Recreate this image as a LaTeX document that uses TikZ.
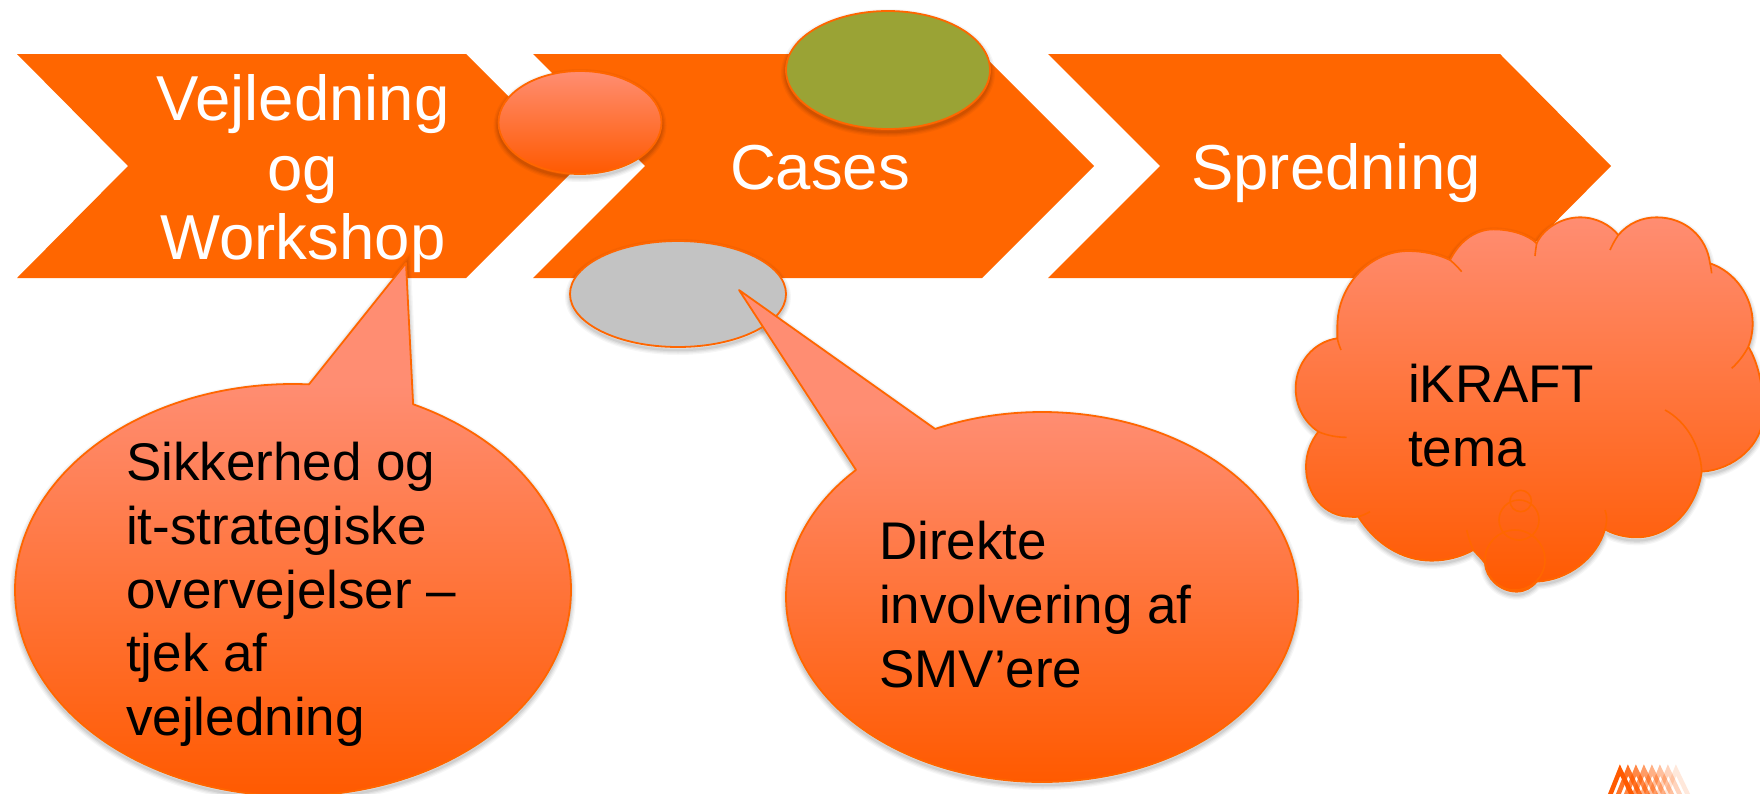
\documentclass[tikz,border=0pt]{standalone}
\usepackage{fontspec}
\setmainfont{Liberation Sans}
\definecolor{chev}{HTML}{FF6600}
\definecolor{gradtop}{HTML}{FF8D72}
\definecolor{gradbot}{HTML}{FF5A00}
\definecolor{edge}{HTML}{FF6600}
\definecolor{olive}{HTML}{9AA335}
\definecolor{lightgrey}{HTML}{C3C3C3}
\tikzset{
  chevron/.style={fill=chev,draw=none},
  outline/.style={draw=edge,line width=1.8pt,line join=round},
  cloudline/.style={draw=edge,line width=1.6pt},
  whitetxt/.style={text=white,font=\fontsize{63.5}{70}\selectfont,anchor=base,inner sep=0pt},
  blacktxt/.style={text=black,font=\fontsize{53}{64}\selectfont,anchor=base west,inner sep=0pt},
  logostroke/.style={line width=4.6pt,color=gradbot,line cap=butt},
}
\newcommand\softshadow[1]{%
  \foreach \w/\o in {10/.035,7.5/.045,5/.055,2.5/.065}{%
    \draw[black,opacity=\o,line width=\w pt,yshift=-3pt] #1;}}
\newcommand\ovalshape[6]{% cx cy rx ry fillstyle name
  \softshadow{(#1,#2) ellipse[x radius=#3,y radius=#4]}
  \path[#5,outline] (#1,#2) ellipse[x radius=#3,y radius=#4];}
\def\calloutA{plot[domain=64.4:-273.3,samples=160,smooth] ({293+278*cos(\x)},{590-206*sin(\x)}) -- (406,263) -- cycle}
\def\calloutB{plot[domain=136.6:474.7,samples=160,smooth] ({1042+256*cos(\x)},{597-185*sin(\x)}) -- (739,290) -- cycle}
\def\cloudpath{(570,180)
 .. controls (600,120) and (650,88) .. (700,88)
 .. controls (755,88) and (805,105) .. (830,130)
 .. controls (850,85) and (905,52) .. (960,52)
 .. controls (1010,52) and (1050,75) .. (1075,105)
 .. controls (1105,70) and (1145,52) .. (1190,52)
 .. controls (1275,52) and (1340,110) .. (1350,190)
 .. controls (1425,215) and (1478,290) .. (1478,370)
 .. controls (1478,395) and (1473,420) .. (1465,440)
 .. controls (1495,490) and (1510,560) .. (1510,640)
 .. controls (1510,735) and (1420,810) .. (1325,815)
 .. controls (1310,925) and (1230,1012) .. (1130,1012)
 .. controls (1095,1012) and (1060,1003) .. (1035,988)
 .. controls (1010,1075) and (925,1140) .. (830,1145)
 .. controls (815,1163) and (795,1175) .. (770,1175)
 .. controls (720,1175) and (678,1135) .. (675,1090)
 .. controls (665,1075) and (650,1062) .. (640,1050)
 .. controls (605,1070) and (560,1082) .. (515,1082)
 .. controls (425,1082) and (345,1030) .. (295,950)
 .. controls (285,952) and (278,951) .. (270,950)
 .. controls (195,950) and (138,885) .. (138,800)
 .. controls (138,760) and (152,725) .. (175,695)
 .. controls (130,665) and (107,615) .. (107,565)
 .. controls (107,490) and (160,425) .. (232,415)
 .. controls (232,405) and (232,390) .. (232,380)
 .. controls (232,255) and (330,153) .. (445,153)
 .. controls (490,153) and (535,163) .. (570,180) -- cycle}
\begin{document}
\begin{tikzpicture}[x=1pt,y=-1pt]
\useasboundingbox (0,0) rectangle (1760,793);
% chevrons
\path[chevron] (17,54) -- (466,54) -- (578,166) -- (466,278) -- (17,278) -- (128,166) -- cycle;
\path[chevron] (533,54) -- (982,54) -- (1094,166) -- (982,278) -- (533,278) -- (645,166) -- cycle;
\path[chevron] (1048,54) -- (1500,54) -- (1611,166) -- (1500,278) -- (1048,278) -- (1160,166) -- cycle;
% chevron texts
\node[whitetxt] (t1a) at (303,120) {Vejledning};
\node[whitetxt] (t1b) at (303,190) {og};
\node[whitetxt] (t1c) at (303,259) {Workshop};
\node[whitetxt] (t2) at (820,189) {Cases};
\node[whitetxt] (t3) at (1336,189) {Spredning};
% shadow of callout 2 lies under the grey oval
\softshadow{\calloutB}
% small ovals
\ovalshape{580}{122.5}{81.5}{51.5}{top color=gradtop,bottom color=gradbot}{o1}
\ovalshape{888}{70}{102}{59}{fill=olive}{o2}
\ovalshape{678}{294}{108}{53}{fill=lightgrey}{o3}
% callout 1
\softshadow{\calloutA}
\begin{scope}
  \clip \calloutA;
  \fill[gradtop] (0,250) rectangle (650,384);
  \shade[top color=gradtop,bottom color=gradbot] (0,384) rectangle (650,796);
\end{scope}
\path[outline] \calloutA;
% callout 2
\begin{scope}
  \clip \calloutB;
  \fill[gradtop] (700,280) rectangle (1350,412);
  \shade[top color=gradtop,bottom color=gradbot] (700,412) rectangle (1350,782);
\end{scope}
\path[outline] \calloutB;
% cloud
\begin{scope}[shift={(1260,200)},x=0.33333pt,y=-0.33333pt]
  \softshadow{\cloudpath}
  \shade[top color=gradtop,bottom color=gradbot] \cloudpath;
  \path[outline] \cloudpath;
  \path[cloudline] (570,180) .. controls (582,190) and (595,203) .. (605,215);
  \path[cloudline] (825,168) .. controls (826,155) and (828,142) .. (830,130);
  \path[cloudline] (1050,150) .. controls (1057,134) and (1066,118) .. (1075,105);
  \path[cloudline] (1355,220) .. controls (1354,210) and (1352,200) .. (1350,190);
  \path[cloudline] (1415,505) .. controls (1435,487) and (1452,465) .. (1465,440);
  \path[cloudline] (1215,630) .. controls (1280,665) and (1322,740) .. (1325,815);
  \path[cloudline] (1035,930) .. controls (1043,950) and (1040,970) .. (1035,988);
  \path[cloudline] (620,990) .. controls (625,1012) and (632,1032) .. (640,1050);
  \path[cloudline] (330,935) .. controls (318,942) and (306,947) .. (295,950);
  \path[cloudline] (260,712) .. controls (230,712) and (200,706) .. (175,695);
  \path[cloudline] (243,450) .. controls (238,438) and (234,426) .. (232,415);
  \path[cloudline] (782,903) circle (10.7pt);
  \path[cloudline] (777,960) circle (20pt);
  \path[cloudline] (765,1080) circle (30pt);
\end{scope}
% black texts
\node[blacktxt] (a1) at (126,480) {Sikkerhed og};
\node[blacktxt] (a2) at (126,544) {it-strategiske};
\node[blacktxt] (a3) at (126,608) {overvejelser –};
\node[blacktxt] (a4) at (126,671) {tjek af};
\node[blacktxt] (a5) at (126,735) {vejledning};
\node[blacktxt] (b1) at (879,559) {Direkte};
\node[blacktxt] (b2) at (879,623) {involvering af};
\node[blacktxt] (b3) at (879,687) {SMV’ere};
\node[blacktxt] (c1) at (1408,402) {iKRAFT};
\node[blacktxt] (c2) at (1408,466) {tema};
% logo
\foreach \i/\o in {0/1,1/.85,2/.72,3/.6,4/.48,5/.38,6/.26,7/.14}{
  \draw[logostroke,opacity=\o] ({1610+8*\i},795) -- ({1620+8*\i},770) -- ({1632+8*\i},795);
}
\end{tikzpicture}
\end{document}
